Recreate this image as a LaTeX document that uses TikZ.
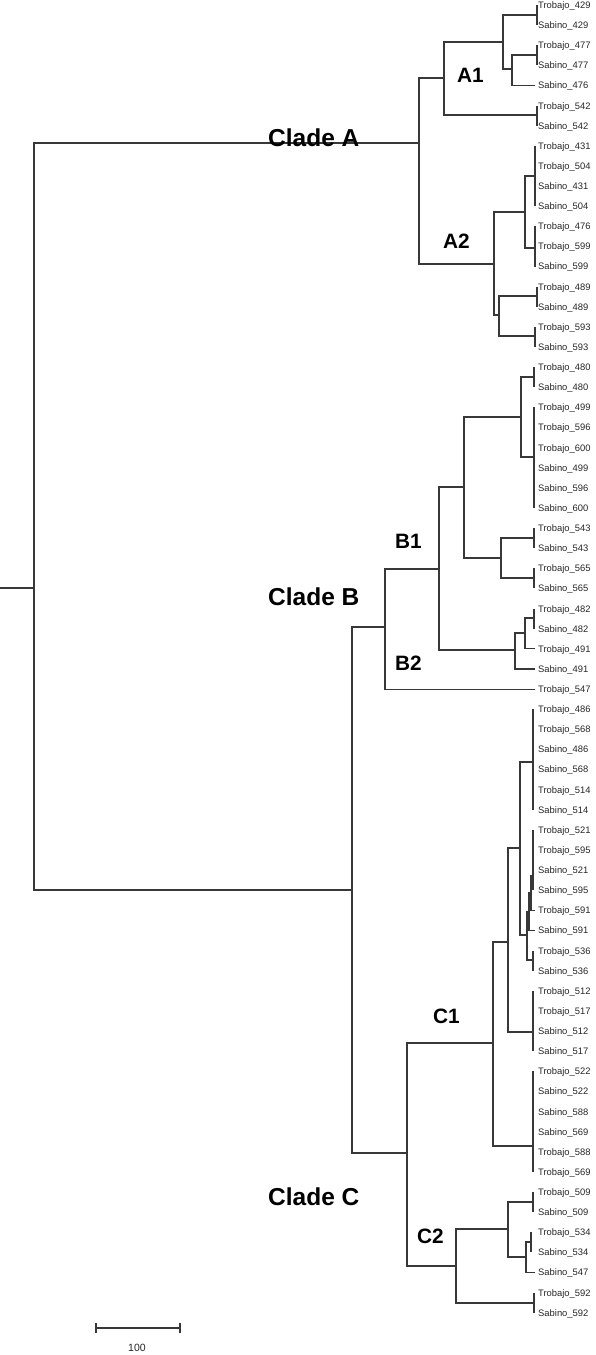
\documentclass[tikz,border=0pt]{standalone}
\usepackage{fontspec}
\setmainfont{Liberation Sans}
\begin{document}
\begin{tikzpicture}[x=1pt,y=-1pt,
  br/.style={line width=1.1pt, draw=black!78},
  leaflab/.style={anchor=base west, inner sep=0pt, font=\fontsize{9.4}{10}\selectfont, text=black!85},
  cladelab/.style={anchor=base west, inner sep=0pt, font=\fontsize{24.5}{26}\selectfont\bfseries},
  sublab/.style={anchor=base west, inner sep=0pt, font=\fontsize{20.8}{22}\selectfont\bfseries},
  scalelab/.style={inner sep=0pt, font=\fontsize{10.5}{12}\selectfont, text=black!85}]
\useasboundingbox (0,0) rectangle (596,1355);
% leaves
\foreach \n [count=\i from 0] in {Trobajo\_429,Sabino\_429,Trobajo\_477,Sabino\_477,Sabino\_476,Trobajo\_542,Sabino\_542,Trobajo\_431,Trobajo\_504,Sabino\_431,Sabino\_504,Trobajo\_476,Trobajo\_599,Sabino\_599,Trobajo\_489,Sabino\_489,Trobajo\_593,Sabino\_593,Trobajo\_480,Sabino\_480,Trobajo\_499,Trobajo\_596,Trobajo\_600,Sabino\_499,Sabino\_596,Sabino\_600,Trobajo\_543,Sabino\_543,Trobajo\_565,Sabino\_565,Trobajo\_482,Sabino\_482,Trobajo\_491,Sabino\_491,Trobajo\_547,Trobajo\_486,Trobajo\_568,Sabino\_486,Sabino\_568,Trobajo\_514,Sabino\_514,Trobajo\_521,Trobajo\_595,Sabino\_521,Sabino\_595,Trobajo\_591,Sabino\_591,Trobajo\_536,Sabino\_536,Trobajo\_512,Trobajo\_517,Sabino\_512,Sabino\_517,Trobajo\_522,Sabino\_522,Sabino\_588,Sabino\_569,Trobajo\_588,Trobajo\_569,Trobajo\_509,Sabino\_509,Trobajo\_534,Sabino\_534,Sabino\_547,Trobajo\_592,Sabino\_592} {
  \coordinate (L\i) at (535,{5+20.12*\i});
  \node[leaflab] (T\i) at (538,{8.4+20.12*\i}) {\n};
}
% zero-length groups (bars)
\newcommand\grp[5]{\coordinate (#1) at (#2,#3); \draw[br] (#1 |- L#4) -- (#1 |- L#5);}
\grp{g429}{537}{15}{0}{1}
\grp{g477}{537}{55}{2}{3}
\grp{g542}{537}{115}{5}{6}
\grp{g431}{535}{176}{7}{10}
\grp{g476}{535}{248}{11}{13}
\grp{g489}{537}{296}{14}{15}
\grp{g593}{535}{336}{16}{17}
\grp{g480}{534}{377}{18}{19}
\grp{g499}{534}{457}{20}{25}
\grp{g543}{534}{538}{26}{27}
\grp{g565}{534}{578}{28}{29}
\grp{g482}{534}{618}{30}{31}
\grp{g486}{533}{762}{35}{40}
\grp{g521}{533}{876}{41}{44}
\grp{g536}{533}{960}{47}{48}
\grp{g512}{533}{1032}{49}{52}
\grp{g522}{533}{1146}{53}{58}
\grp{g509}{533}{1202}{59}{60}
\grp{g534}{531}{1242}{61}{62}
\grp{g592}{534}{1303}{64}{65}
% internal nodes
\coordinate (n477) at (512,69);
\coordinate (n429) at (503,42);
\coordinate (A1) at (444,78);
\coordinate (n431) at (525,212);
\coordinate (n489) at (499,315);
\coordinate (A2) at (494,264);
\coordinate (A) at (419,143);
\coordinate (n480) at (521,417);
\coordinate (n543) at (501,558);
\coordinate (n464) at (464,487);
\coordinate (n482) at (525,633);
\coordinate (n491) at (515,650);
\coordinate (B1) at (439,569);
\coordinate (B) at (385,627);
\coordinate (n591a) at (531,893);
\coordinate (n591b) at (529,912);
\coordinate (n536) at (527,935);
\coordinate (n486) at (520,848);
\coordinate (n508) at (508,942);
\coordinate (C1) at (493,1043);
\coordinate (n534) at (526,1257);
\coordinate (n509) at (508,1229);
\coordinate (C2) at (456,1266);
\coordinate (C) at (407,1153);
\coordinate (BC) at (352,890);
\coordinate (root) at (34,588);
\coordinate (stem) at (0,588);
% connectors
\draw[br] (n477) |- (g477); \draw[br] (n477) |- (L4);
\draw[br] (n429) |- (g429); \draw[br] (n429) |- (n477);
\draw[br] (A1) |- (n429); \draw[br] (A1) |- (g542);
\draw[br] (n431) |- (g431); \draw[br] (n431) |- (g476);
\draw[br] (n489) |- (g489); \draw[br] (n489) |- (g593);
\draw[br] (A2) |- (n431); \draw[br] (A2) |- (n489);
\draw[br] (A) |- (A1); \draw[br] (A) |- (A2);
\draw[br] (n480) |- (g480); \draw[br] (n480) |- (g499);
\draw[br] (n543) |- (g543); \draw[br] (n543) |- (g565);
\draw[br] (n464) |- (n480); \draw[br] (n464) |- (n543);
\draw[br] (n482) |- (g482); \draw[br] (n482) |- (L32);
\draw[br] (n491) |- (n482); \draw[br] (n491) |- (L33);
\draw[br] (B1) |- (n464); \draw[br] (B1) |- (n491);
\draw[br] (B) |- (B1); \draw[br] (B) |- (L34);
\draw[br] (n591a) |- (g521); \draw[br] (n591a) |- (L45);
\draw[br] (n591b) |- (n591a); \draw[br] (n591b) |- (L46);
\draw[br] (n536) |- (n591b); \draw[br] (n536) |- (g536);
\draw[br] (n486) |- (g486); \draw[br] (n486) |- (n536);
\draw[br] (n508) |- (n486); \draw[br] (n508) |- (g512);
\draw[br] (C1) |- (n508); \draw[br] (C1) |- (g522);
\draw[br] (n534) |- (g534); \draw[br] (n534) |- (L63);
\draw[br] (n509) |- (g509); \draw[br] (n509) |- (n534);
\draw[br] (C2) |- (n509); \draw[br] (C2) |- (g592);
\draw[br] (C) |- (C1); \draw[br] (C) |- (C2);
\draw[br] (BC) |- (B); \draw[br] (BC) |- (C);
\draw[br] (root) |- (A); \draw[br] (root) |- (BC);
\draw[br] (stem) -- (root);
% clade labels
\node[cladelab] (labA) at (268,146) {Clade A};
\node[cladelab] (labB) at (268,605) {Clade B};
\node[cladelab] (labC) at (268,1205) {Clade C};
\node[sublab] (labA1) at (457,82) {A1};
\node[sublab] (labA2) at (443,248) {A2};
\node[sublab] (labB1) at (395,548) {B1};
\node[sublab] (labB2) at (395,670) {B2};
\node[sublab] (labC1) at (433,1023) {C1};
\node[sublab] (labC2) at (417,1243) {C2};
% scale bar
\coordinate (sbL) at (96,1328);
\coordinate (sbR) at (180,1328);
\draw[br] (sbL) -- (sbR);
\draw[br] ([yshift=5pt]sbL) -- ([yshift=-5pt]sbL);
\draw[br] ([yshift=5pt]sbR) -- ([yshift=-5pt]sbR);
\node[scalelab] (sblab) at (137,1348) {100};
\end{tikzpicture}
\end{document}
